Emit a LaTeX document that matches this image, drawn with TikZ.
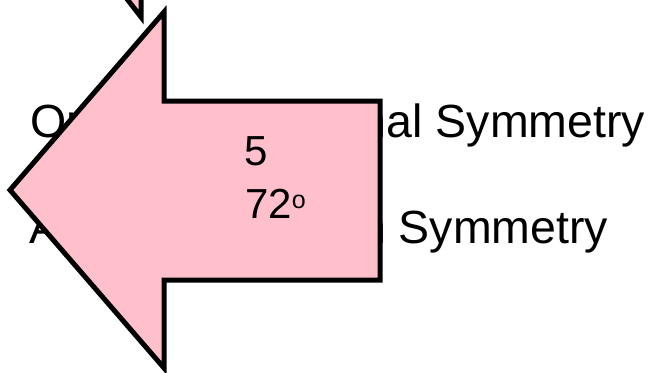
\documentclass[tikz,border=0pt]{standalone}
\usepackage{fontspec}
\setmainfont{Liberation Sans}
\definecolor{arrowpink}{RGB}{255,192,203}
\begin{document}
\begin{tikzpicture}[x=1pt,y=-1pt,
  outline/.style={draw=black,line width=5pt,fill=arrowpink,miter limit=20},
  bigtext/.style={inner sep=0pt,anchor=base west,font=\fontsize{46.5}{55}\selectfont},
  numtext/.style={inner sep=0pt,anchor=base west,font=\fontsize{42}{50}\selectfont}]
\useasboundingbox (0,0) rectangle (652,372);
% background texts
\node[bigtext] (order) at (30,137) {Order of Rotational Symmetry};
\node[bigtext] (angle) at (29,243) {Angle of Rotation Symmetry};
% fragment at top
\begin{scope}
\clip (0,0) rectangle (652,372);
\draw[outline] (120,-10) -- (141,17) -- (141,-10) -- cycle;
\end{scope}
% main arrow
\draw[outline] (10,190) -- (164,12) -- (164,101) -- (380,101) -- (380,280) -- (164,280) -- (164,368) -- cycle;
\node[numtext] (five) at (244,165) {5};
\node[numtext] (deg) at (245,218) {72\raisebox{10pt}{\fontsize{25}{25}\selectfont o}};
\end{tikzpicture}
\end{document}
